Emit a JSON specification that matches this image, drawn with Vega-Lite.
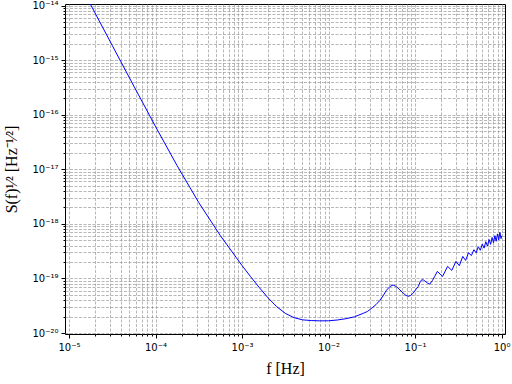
{
  "$schema": "https://vega.github.io/schema/vega-lite/v6.json",
  "width": 440,
  "height": 330,
  "autosize": "none",
  "padding": {"left": 65, "top": 4, "right": 7, "bottom": 50},
  "background": "white",
  "config": {
    "view": {"stroke": "black", "strokeWidth": 1},
    "axis": {
      "domain": false,
      "labelFont": "DejaVu Sans",
      "labelFontSize": 10,
      "labelColor": "black",
      "tickColor": "black",
      "titleColor": "black",
      "titleFont": "Liberation Serif",
      "titleFontSize": 16,
      "titleFontWeight": "normal",
      "grid": true,
      "gridColor": "#999999",
      "gridWidth": 0.7,
      "gridDash": [3, 1.5]
    }
  },
  "data": {
    "values": [
      {"f": 1e-5, "S": 5.888e-14},
      {"f": 1.778e-5, "S": 1.047e-14},
      {"f": 3.162e-5, "S": 1.866e-15},
      {"f": 5.623e-5, "S": 3.350e-16},
      {"f": 1e-4, "S": 6.095e-17},
      {"f": 1.778e-4, "S": 1.167e-17},
      {"f": 3.162e-4, "S": 2.460e-18},
      {"f": 5.623e-4, "S": 6.081e-19},
      {"f": 1e-3, "S": 1.726e-19},
      {"f": 1.259e-3, "S": 1.074e-19},
      {"f": 1.585e-3, "S": 6.792e-20},
      {"f": 1.995e-3, "S": 4.426e-20},
      {"f": 2.512e-3, "S": 3.048e-20},
      {"f": 3.162e-3, "S": 2.296e-20},
      {"f": 3.981e-3, "S": 1.914e-20},
      {"f": 5.012e-3, "S": 1.742e-20},
      {"f": 6.310e-3, "S": 1.690e-20},
      {"f": 7.943e-3, "S": 1.671e-20},
      {"f": 1e-2, "S": 1.675e-20},
      {"f": 1.259e-2, "S": 1.730e-20},
      {"f": 1.585e-2, "S": 1.828e-20},
      {"f": 1.995e-2, "S": 1.982e-20},
      {"f": 2.512e-2, "S": 2.291e-20},
      {"f": 2.818e-2, "S": 2.483e-20},
      {"f": 3.162e-2, "S": 2.851e-20},
      {"f": 3.548e-2, "S": 3.327e-20},
      {"f": 3.908e-2, "S": 3.936e-20},
      {"f": 4.266e-2, "S": 4.786e-20},
      {"f": 4.677e-2, "S": 6.095e-20},
      {"f": 5.129e-2, "S": 7.112e-20},
      {"f": 5.572e-2, "S": 7.586e-20},
      {"f": 6.095e-2, "S": 7.079e-20},
      {"f": 6.683e-2, "S": 6.166e-20},
      {"f": 7.278e-2, "S": 5.408e-20},
      {"f": 7.852e-2, "S": 4.898e-20},
      {"f": 8.375e-2, "S": 4.688e-20},
      {"f": 8.913e-2, "S": 4.898e-20},
      {"f": 9.550e-2, "S": 5.408e-20},
      {"f": 0.1023, "S": 6.310e-20},
      {"f": 0.1091, "S": 7.145e-20},
      {"f": 0.1148, "S": 8.710e-20},
      {"f": 0.1197, "S": 9.484e-20},
      {"f": 0.1259, "S": 9.333e-20},
      {"f": 0.1306, "S": 8.913e-20},
      {"f": 0.1396, "S": 8.222e-20},
      {"f": 0.1479, "S": 7.852e-20},
      {"f": 0.1585, "S": 9.120e-20},
      {"f": 0.1690, "S": 1.096e-19},
      {"f": 0.181, "S": 1.346e-19},
      {"f": 0.208, "S": 1.091e-19},
      {"f": 0.238, "S": 1.663e-19},
      {"f": 0.266, "S": 1.406e-19},
      {"f": 0.297, "S": 2.056e-19},
      {"f": 0.325, "S": 1.714e-19},
      {"f": 0.356, "S": 2.535e-19},
      {"f": 0.384, "S": 2.143e-19},
      {"f": 0.415, "S": 2.951e-19},
      {"f": 0.4485, "S": 2.630e-19},
      {"f": 0.4784, "S": 3.365e-19},
      {"f": 0.5083, "S": 2.958e-19},
      {"f": 0.5382, "S": 3.811e-19},
      {"f": 0.5681, "S": 3.281e-19},
      {"f": 0.598, "S": 4.266e-19},
      {"f": 0.6279, "S": 3.597e-19},
      {"f": 0.6578, "S": 4.721e-19},
      {"f": 0.6877, "S": 3.908e-19},
      {"f": 0.7176, "S": 5.176e-19},
      {"f": 0.7475, "S": 4.217e-19},
      {"f": 0.7774, "S": 5.636e-19},
      {"f": 0.8073, "S": 4.508e-19},
      {"f": 0.8372, "S": 6.095e-19},
      {"f": 0.8671, "S": 4.808e-19},
      {"f": 0.897, "S": 6.561e-19},
      {"f": 0.9269, "S": 5.093e-19},
      {"f": 0.9568, "S": 7.015e-19},
      {"f": 0.9867, "S": 5.370e-19},
      {"f": 1.0, "S": 6.026e-19}
    ]
  },
  "mark": {"type": "line", "color": "#0000ff", "strokeWidth": 1, "clip": true},
  "encoding": {
    "x": {
      "field": "f",
      "type": "quantitative",
      "scale": {"type": "log", "domain": [8.99e-6, 1.096], "nice": false, "zero": false},
      "axis": {
        "title": "f [Hz]",
        "titlePadding": 8,
        "labelPadding": 4,
        "values": [1e-5, 2e-5, 3e-5, 4e-5, 5e-5, 6e-5, 7e-5, 8e-5, 9e-5, 1e-4, 2e-4, 3e-4, 4e-4, 5e-4, 6e-4, 7e-4, 8e-4, 9e-4, 1e-3, 2e-3, 3e-3, 4e-3, 5e-3, 6e-3, 7e-3, 8e-3, 9e-3, 1e-2, 2e-2, 3e-2, 4e-2, 5e-2, 6e-2, 7e-2, 8e-2, 9e-2, 0.1, 0.2, 0.3, 0.4, 0.5, 0.6, 0.7, 0.8, 0.9, 1],
        "labelExpr": "datum.value==1e-5?'10⁻⁵':datum.value==1e-4?'10⁻⁴':datum.value==1e-3?'10⁻³':datum.value==1e-2?'10⁻²':datum.value==0.1?'10⁻¹':datum.value==1?'10⁰':''",
        "tickSize": {"condition": {"test": "abs(log(datum.value)/LN10 - round(log(datum.value)/LN10)) < 1e-6", "value": 4}, "value": 2}
      }
    },
    "y": {
      "field": "S",
      "type": "quantitative",
      "scale": {"type": "log", "domain": [9.59e-21, 1.074e-14], "nice": false, "zero": false},
      "axis": {
        "title": "S(f)¹⁄² [Hz⁻¹⁄²]",
        "titlePadding": 12,
        "labelPadding": 3,
        "values": [1e-20, 2e-20, 3e-20, 4e-20, 5e-20, 6e-20, 7e-20, 8e-20, 9e-20, 1e-19, 2e-19, 3e-19, 4e-19, 5e-19, 6e-19, 7e-19, 8e-19, 9e-19, 1e-18, 2e-18, 3e-18, 4e-18, 5e-18, 6e-18, 7e-18, 8e-18, 9e-18, 1e-17, 2e-17, 3e-17, 4e-17, 5e-17, 6e-17, 7e-17, 8e-17, 9e-17, 1e-16, 2e-16, 3e-16, 4e-16, 5e-16, 6e-16, 7e-16, 8e-16, 9e-16, 1e-15, 2e-15, 3e-15, 4e-15, 5e-15, 6e-15, 7e-15, 8e-15, 9e-15, 1e-14],
        "labelExpr": "datum.value==1e-20?'10⁻²⁰':datum.value==1e-19?'10⁻¹⁹':datum.value==1e-18?'10⁻¹⁸':datum.value==1e-17?'10⁻¹⁷':datum.value==1e-16?'10⁻¹⁶':datum.value==1e-15?'10⁻¹⁵':datum.value==1e-14?'10⁻¹⁴':''",
        "tickSize": {"condition": {"test": "abs(log(datum.value)/LN10 - round(log(datum.value)/LN10)) < 1e-6", "value": 4}, "value": 2}
      }
    }
  }
}
